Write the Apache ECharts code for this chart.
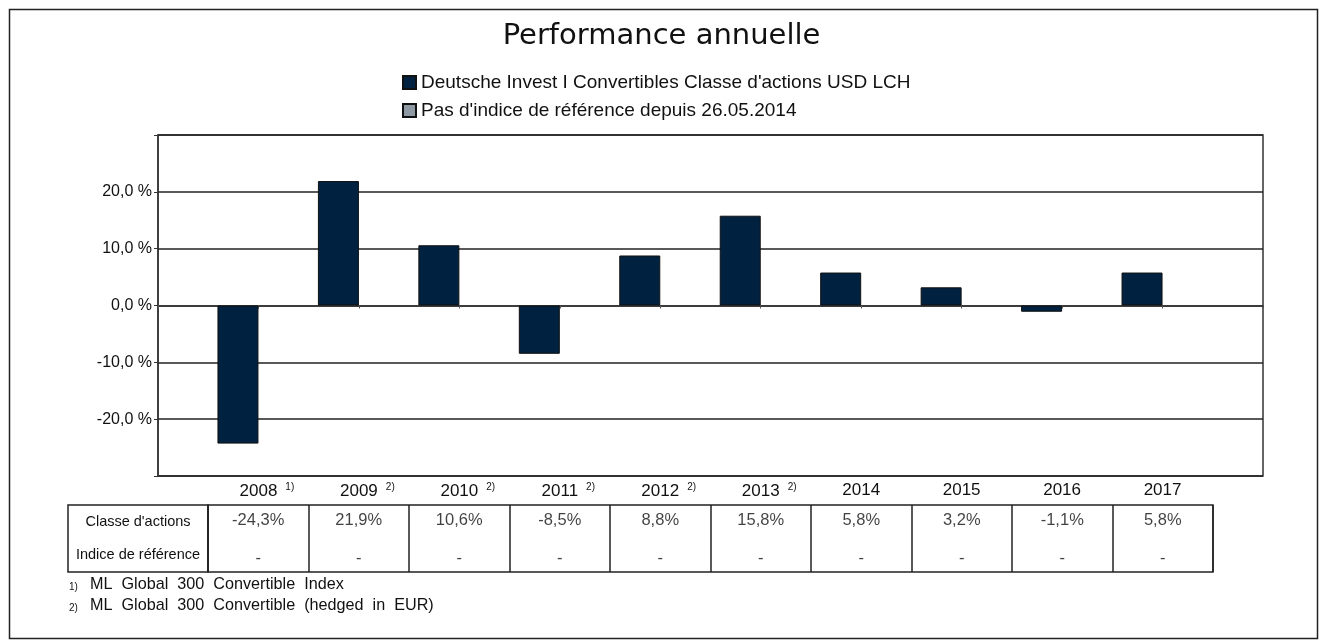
<!DOCTYPE html>
<html>
<head>
<meta charset="utf-8">
<script src="https://cdn.jsdelivr.net/npm/echarts@6/dist/echarts.min.js"></script>
<style>
  html, body { margin: 0; padding: 0; background: #fff; }
  #container { width: 1323px; height: 643px; }
</style>
</head>
<body>
<div id="container"></div>
<script>
  var years = ['2008', '2009', '2010', '2011', '2012', '2013', '2014', '2015', '2016', '2017'];
  var footRefs = ['1)', '2)', '2)', '2)', '2)', '2)', '', '', '', ''];
  var fundValues = [-24.3, 21.9, 10.6, -8.5, 8.8, 15.8, 5.8, 3.2, -1.1, 5.8];
  var benchValues = ['-', '-', '-', '-', '-', '-', '-', '-', '-', '-'];
  var rowNames = ["Classe d'actions", 'Indice de référence'];
  var fundName = "Deutsche Invest I Convertibles Classe d'actions USD LCH";
  var benchName = "Pas d'indice de référence depuis 26.05.2014";
  var footnotes = [
      ['1)', 'ML Global 300 Convertible Index'],
      ['2)', 'ML Global 300 Convertible (hedged in EUR)']
  ];

  var dom = document.getElementById("container");
  var myChart = echarts.init(dom);
  var font = 'Liberation Sans, Arial, sans-serif';

  // empty slot at both ends so the years sit on the ticks
  var cats = [''].concat(years, ['']);
  var fundData = [null].concat(fundValues, [null]);
  var benchData = ['-'].concat(benchValues, ['-']);

  function pct(v) {
      return v.toFixed(1).replace('.', ',') + '%';
  }

  // table cells
  var cellData = [];
  for (var i = 0; i < years.length; i++) {
      cellData.push({ value: [years[i], rowNames[0], pct(fundValues[i])], label: { offset: [0, -1] } });
      cellData.push({ value: [years[i], rowNames[1], benchValues[i]], label: { offset: [0, 3] } });
  }

  var footGraphics = [];
  footnotes.forEach(function (f, k) {
      footGraphics.push({
          type: 'text', left: 69, top: 582 + k * 21,
          style: { text: f[0], fontSize: 10, fontFamily: font, fill: '#111' }
      });
      footGraphics.push({
          type: 'text', left: 90, top: 577 + k * 21,
          style: { text: f[1].split(' ').join('  '), fontSize: 16.2, fontFamily: font, fill: '#111' }
      });
  });

  var option = {
      animation: false,
      backgroundColor: '#fff',
      //标题
      title: {
          text: 'Performance annuelle',
          left: 'center',
          top: 17,
          textStyle: { fontFamily: 'DejaVu Sans', fontSize: 29, fontWeight: 'normal', color: '#111' }
      },
      legend: {
          orient: 'vertical',
          left: 397,
          top: 68,
          itemWidth: 13,
          itemHeight: 13,
          itemGap: 9,
          icon: 'rect',
          data: [fundName, benchName],
          textStyle: { fontFamily: font, fontSize: 19, color: '#111' }
      },
      grid: [
          { left: 158, right: 60, top: 135, height: 341, show: true, borderColor: '#333', borderWidth: 1.5 },
          { left: 208, right: 110, top: 505, height: 67, show: true, borderColor: '#222', borderWidth: 1.5 },
          { left: 68, width: 140, top: 505, height: 67, show: true, borderColor: '#222', borderWidth: 1.5 }
      ],
      //x轴设置
      xAxis: [
          {
              type: 'category', gridIndex: 0, data: cats, boundaryGap: false,
              axisLine: { lineStyle: { color: '#333', width: 1.5 } },
              axisTick: { show: true, length: 3, lineStyle: { color: '#555' } },
              axisLabel: {
                  margin: 6,
                  interval: 0,
                  formatter: function (v) {
                      var idx = years.indexOf(v);
                      if (idx < 0) return '';
                      var s = footRefs[idx];
                      if (!s) return '{a|' + v + '}';
                      return '{h|' + s + '}{a|' + v + '}{s|' + s + '}';
                  },
                  rich: {
                      a: { fontFamily: font, fontSize: 17, color: '#111' },
                      s: { fontFamily: font, fontSize: 10, color: '#111', padding: [0, 0, 9, 8] },
                      h: { fontFamily: font, fontSize: 10, color: 'rgba(0,0,0,0)', padding: [0, 8, 9, 0] }
                  }
              },
              splitLine: { show: false }
          },
          {
              type: 'category', gridIndex: 1, data: years, boundaryGap: true,
              axisLine: { show: false }, axisTick: { show: false }, axisLabel: { show: false },
              splitLine: { show: true, lineStyle: { color: '#222', width: 1.5 } }
          },
          { type: 'value', gridIndex: 2, show: false }
      ],
      yAxis: [
          {
              type: 'value', gridIndex: 0, min: -30, max: 30, interval: 10,
              axisLine: { show: true, lineStyle: { color: '#333', width: 1.5 } },
              axisTick: { show: true, length: 4, lineStyle: { color: '#333' } },
              axisLabel: {
                  margin: 6,
                  fontFamily: font, fontSize: 16, color: '#111',
                  formatter: function (v) {
                      if (Math.abs(v) >= 30) return '';
                      return v.toFixed(1).replace('.', ',').replace('-0,0', '0,0') + ' %';
                  }
              },
              splitLine: { show: true, lineStyle: { color: '#222', width: 1.5 } }
          },
          {
              type: 'category', gridIndex: 1, data: rowNames, inverse: true,
              axisLine: { show: false }, axisTick: { show: false }, splitLine: { show: false },
              axisLabel: { margin: 70, align: 'center', fontFamily: font, fontSize: 14.5, color: '#111' }
          },
          { type: 'value', gridIndex: 2, show: false }
      ],
      series: [
          {
              name: fundName, type: 'bar', xAxisIndex: 0, yAxisIndex: 0,
              barWidth: 41, barGap: '0%',
              data: fundData,
              itemStyle: { color: '#00213F', borderColor: '#111', borderWidth: 1 }
          },
          {
              name: benchName, type: 'bar', xAxisIndex: 0, yAxisIndex: 0,
              barWidth: 41,
              data: benchData,
              itemStyle: { color: '#8E99A4', borderColor: '#111', borderWidth: 1 }
          },
          {
              type: 'scatter', xAxisIndex: 1, yAxisIndex: 1,
              symbolSize: 0, silent: true,
              data: cellData,
              label: {
                  show: true, position: 'inside',
                  fontFamily: font, fontSize: 16.5, color: '#111',
                  formatter: function (p) { return p.value[2]; }
              }
          }
      ],
      graphic: [
          {
              type: 'rect', left: 7, top: 7, silent: true,
              shape: { width: 1308, height: 629 },
              style: { fill: 'none', stroke: '#222', lineWidth: 1.5 }
          }
      ].concat(footGraphics)
  };

  if (option && typeof option === "object") {
      myChart.setOption(option, true);
  }
</script>
</body>
</html>
